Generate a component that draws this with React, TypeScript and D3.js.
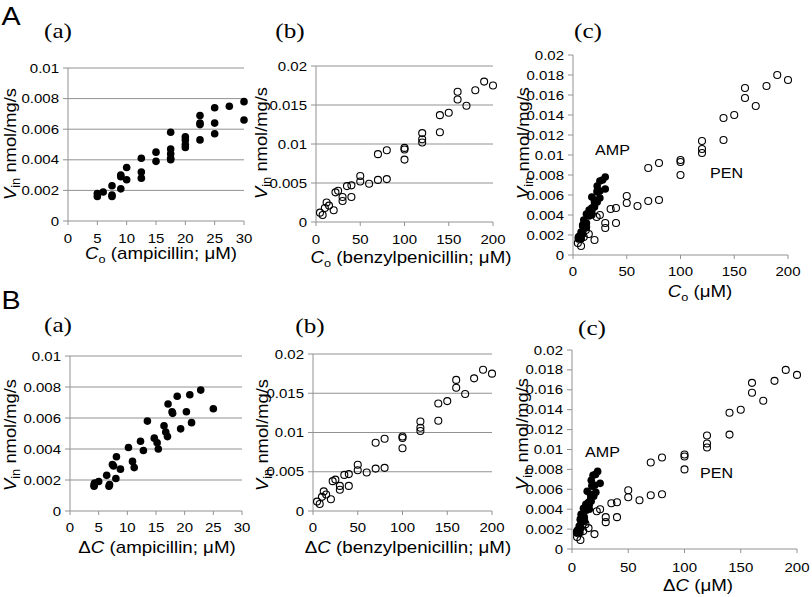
import React from "react";
import * as d3 from "d3";

// ampicillin, panel A: C_o (uM) vs V_in
const ampCo = [5, 5, 6, 7.5, 7.5, 7.5, 9, 9, 9, 10, 10, 12.5, 12.5, 12.5, 15, 15, 17.5, 17.5, 17.5, 17.5, 17.5, 20, 20, 20, 20, 22.5, 22.5, 22.5, 22.5, 25, 25, 25, 27.5, 30, 30];
const ampVinCo = [0.0016, 0.0018, 0.0019, 0.0023, 0.0016, 0.0017, 0.0021, 0.003, 0.0029, 0.0035, 0.0027, 0.0041, 0.0032, 0.0028, 0.0045, 0.0039, 0.0058, 0.0047, 0.0044, 0.0041, 0.004, 0.0055, 0.0053, 0.005, 0.0048, 0.0069, 0.0064, 0.0063, 0.0053, 0.0074, 0.0064, 0.0057, 0.0075, 0.0078, 0.0066];

// ampicillin, panel B: deltaC (uM) vs V_in
const ampDeltaC = [4.2, 4.3, 4.2, 5, 6.4, 6.8, 6.9, 7.4, 7.6, 8, 8.1, 8.8, 10.2, 10.9, 11.2, 12.3, 12.8, 13.5, 14.7, 15.2, 15.4, 16.4, 16.7, 17, 17.1, 17.8, 17.9, 18.7, 19.3, 20.3, 20.9, 21.2, 22.8, 25];
const ampVinDeltaC = [0.0016, 0.0018, 0.0017, 0.0019, 0.0023, 0.0016, 0.0017, 0.003, 0.0029, 0.0021, 0.0035, 0.0027, 0.0041, 0.0032, 0.0028, 0.0045, 0.0039, 0.0058, 0.0047, 0.0044, 0.004, 0.0055, 0.0051, 0.0048, 0.0069, 0.0064, 0.0063, 0.0074, 0.0053, 0.0064, 0.0075, 0.0057, 0.0078, 0.0066];

// benzylpenicillin (same in A and B)
const penC = [4.5, 7.5, 10, 12, 14.7, 20, 22, 25, 30, 30, 35, 40, 40, 50, 50, 60, 70, 70, 80, 80, 100, 100, 100, 120, 120, 120, 140, 140, 150, 160, 160, 170, 180, 190, 200];
const penVin = [0.0012, 0.0009, 0.0018, 0.0025, 0.0021, 0.0015, 0.0038, 0.004, 0.0032, 0.0027, 0.0046, 0.0047, 0.0032, 0.0059, 0.0052, 0.0049, 0.0087, 0.0054, 0.0092, 0.0055, 0.0095, 0.0093, 0.008, 0.0114, 0.0106, 0.0102, 0.0137, 0.0115, 0.014, 0.0167, 0.0157, 0.0149, 0.0169, 0.018, 0.0175];

const ticksAmpX = [0, 5, 10, 15, 20, 25, 30];
const ticksPenX = [0, 50, 100, 150, 200];
const ticksVinAmp = [0, 0.002, 0.004, 0.006, 0.008, 0.01];
const ticksVinPen = [0, 0.005, 0.01, 0.015, 0.02];
const ticksVinBoth = [0, 0.002, 0.004, 0.006, 0.008, 0.01, 0.012, 0.014, 0.016, 0.018, 0.02];

const SANS = "'Liberation Sans', Arial, sans-serif";
const SERIF = "'Liberation Serif', 'Times New Roman', serif";
const GRAY = "#929292";

const fmt = (v) => String(+v.toFixed(3));
const zip = (xs, ys) => xs.map((x, i) => [x, ys[i]]);

function Txt({ x, y, size, anchor = "middle", sx = 1.2, rot = 0, family = SANS, children }) {
  return (
    <text
      transform={`translate(${x},${y}) rotate(${rot}) scale(${sx},1)`}
      textAnchor={anchor}
      fontSize={size}
      fontFamily={family}
      fill="#000"
    >
      {children}
    </text>
  );
}

function XTitle({ kind, rest, size }) {
  if (kind === "Co") {
    return (
      <>
        <tspan fontStyle="italic">C</tspan>
        <tspan fontSize={size * 0.68} dy={4}>o</tspan>
        <tspan dy={-4}>{rest}</tspan>
      </>
    );
  }
  return (
    <>
      <tspan>Δ</tspan>
      <tspan fontStyle="italic">C</tspan>
      <tspan>{rest}</tspan>
    </>
  );
}

function Panel({ p }) {
  const x = d3.scaleLinear().domain(p.xDomain).range([p.left, p.right]);
  const y = d3.scaleLinear().domain(p.yDomain).range([p.bottom, p.top]);

  return (
    <g>
      {p.grid &&
        p.yTicks
          .filter((t) => t > 0)
          .map((t) => (
            <line key={"g" + t} x1={p.left} x2={p.right} y1={y(t)} y2={y(t)} stroke={GRAY} strokeWidth={1} />
          ))}
      <line x1={p.left} x2={p.left} y1={p.top} y2={p.bottom} stroke={GRAY} strokeWidth={1} />
      <line x1={p.left} x2={p.right} y1={p.bottom} y2={p.bottom} stroke={GRAY} strokeWidth={1} />
      {p.yTicks.map((t) => (
        <g key={"y" + t}>
          <line x1={p.left - 5} x2={p.left} y1={y(t)} y2={y(t)} stroke={GRAY} />
          <Txt x={p.left - 9} y={y(t) + 4.5} size={12.5} anchor="end">
            {fmt(t)}
          </Txt>
        </g>
      ))}
      {p.xTicks.map((t) => (
        <g key={"x" + t}>
          <line x1={x(t)} x2={x(t)} y1={p.bottom} y2={p.bottom + 4} stroke={GRAY} />
          <Txt x={x(t)} y={p.tickY} size={12.5}>
            {t}
          </Txt>
        </g>
      ))}
      {p.series.map((s, si) =>
        s.pts.map((d, i) =>
          s.filled ? (
            <circle key={si + "-" + i} cx={x(d[0])} cy={y(d[1])} r={3.8} fill="#000" />
          ) : (
            <circle key={si + "-" + i} cx={x(d[0])} cy={y(d[1])} r={3.5} fill="none" stroke="#000" strokeWidth={1.1} />
          )
        )
      )}
      {p.notes.map((n) => (
        <Txt key={n.text} x={n.x} y={n.y} size={14} anchor="start" sx={1.15}>
          {n.text}
        </Txt>
      ))}
      <Txt x={p.titleX} y={p.titleY} size={16} sx={1.17}>
        <XTitle kind={p.kind} rest={p.rest} size={16} />
      </Txt>
      <Txt x={p.ylabX} y={p.ylabY} size={17} rot={-90} sx={1.08}>
        <tspan fontStyle="italic">V</tspan>
        <tspan fontSize={12} dy={4}>in</tspan>
        <tspan dy={-4}> nmol/mg/s</tspan>
      </Txt>
      <Txt x={p.tagX} y={p.tagY} size={21} family={SERIF} sx={1.2}>
        {p.tag}
      </Txt>
    </g>
  );
}

const ampA = zip(ampCo, ampVinCo);
const ampB = zip(ampDeltaC, ampVinDeltaC);
const pen = zip(penC, penVin);

const panels = [
  { tag: "(a)", tagX: 58, tagY: 38, left: 68, right: 244, top: 68, bottom: 221, xDomain: [0, 30], yDomain: [0, 0.01], xTicks: ticksAmpX, yTicks: ticksVinAmp, grid: true, series: [{ pts: ampA, filled: true }], notes: [], kind: "Co", rest: " (ampicillin; μM)", titleX: 161, titleY: 259, tickY: 243, ylabX: 16, ylabY: 144 },
  { tag: "(b)", tagX: 290, tagY: 38, left: 316, right: 493, top: 66, bottom: 222, xDomain: [0, 200], yDomain: [0, 0.02], xTicks: ticksPenX, yTicks: ticksVinPen, grid: true, series: [{ pts: pen, filled: false }], notes: [], kind: "Co", rest: " (benzylpenicillin; μM)", titleX: 411, titleY: 263, tickY: 244, ylabX: 267, ylabY: 143 },
  { tag: "(c)", tagX: 588, tagY: 38, left: 573, right: 788, top: 55, bottom: 255, xDomain: [0, 200], yDomain: [0, 0.02], xTicks: ticksPenX, yTicks: ticksVinBoth, grid: false, series: [{ pts: pen, filled: false }, { pts: ampA, filled: true }], notes: [{ text: "AMP", x: 595, y: 155 }, { text: "PEN", x: 710, y: 178 }], kind: "Co", rest: " (μM)", titleX: 700, titleY: 297, tickY: 276, ylabX: 529, ylabY: 143 },
  { tag: "(a)", tagX: 58, tagY: 332, left: 70, right: 242, top: 356, bottom: 511, xDomain: [0, 30], yDomain: [0, 0.01], xTicks: ticksAmpX, yTicks: ticksVinAmp, grid: true, series: [{ pts: ampB, filled: true }], notes: [], kind: "dC", rest: " (ampicillin; μM)", titleX: 157, titleY: 553, tickY: 532, ylabX: 16, ylabY: 435 },
  { tag: "(b)", tagX: 310, tagY: 333, left: 313, right: 492, top: 354, bottom: 511, xDomain: [0, 200], yDomain: [0, 0.02], xTicks: ticksPenX, yTicks: ticksVinPen, grid: true, series: [{ pts: pen, filled: false }], notes: [], kind: "dC", rest: " (benzylpenicillin; μM)", titleX: 408, titleY: 553, tickY: 532, ylabX: 268, ylabY: 435 },
  { tag: "(c)", tagX: 592, tagY: 335, left: 572, right: 797, top: 350, bottom: 549, xDomain: [0, 200], yDomain: [0, 0.02], xTicks: ticksPenX, yTicks: ticksVinBoth, grid: false, series: [{ pts: pen, filled: false }, { pts: ampB, filled: true }], notes: [{ text: "AMP", x: 585, y: 457 }, { text: "PEN", x: 700, y: 478 }], kind: "dC", rest: " (μM)", titleX: 698, titleY: 591, tickY: 572, ylabX: 528, ylabY: 434 },
];

export default function App() {
  return (
    <div style={{ position: "absolute", left: 0, top: 0 }}>
      <svg width={812} height={597} style={{ display: "block", background: "#fff" }}>
        <Txt x={11} y={25} size={26} sx={1.1}>A</Txt>
        <Txt x={11} y={309} size={26} sx={1.1}>B</Txt>
        {panels.map((p, i) => (
          <Panel key={i} p={p} />
        ))}
      </svg>
    </div>
  );
}
